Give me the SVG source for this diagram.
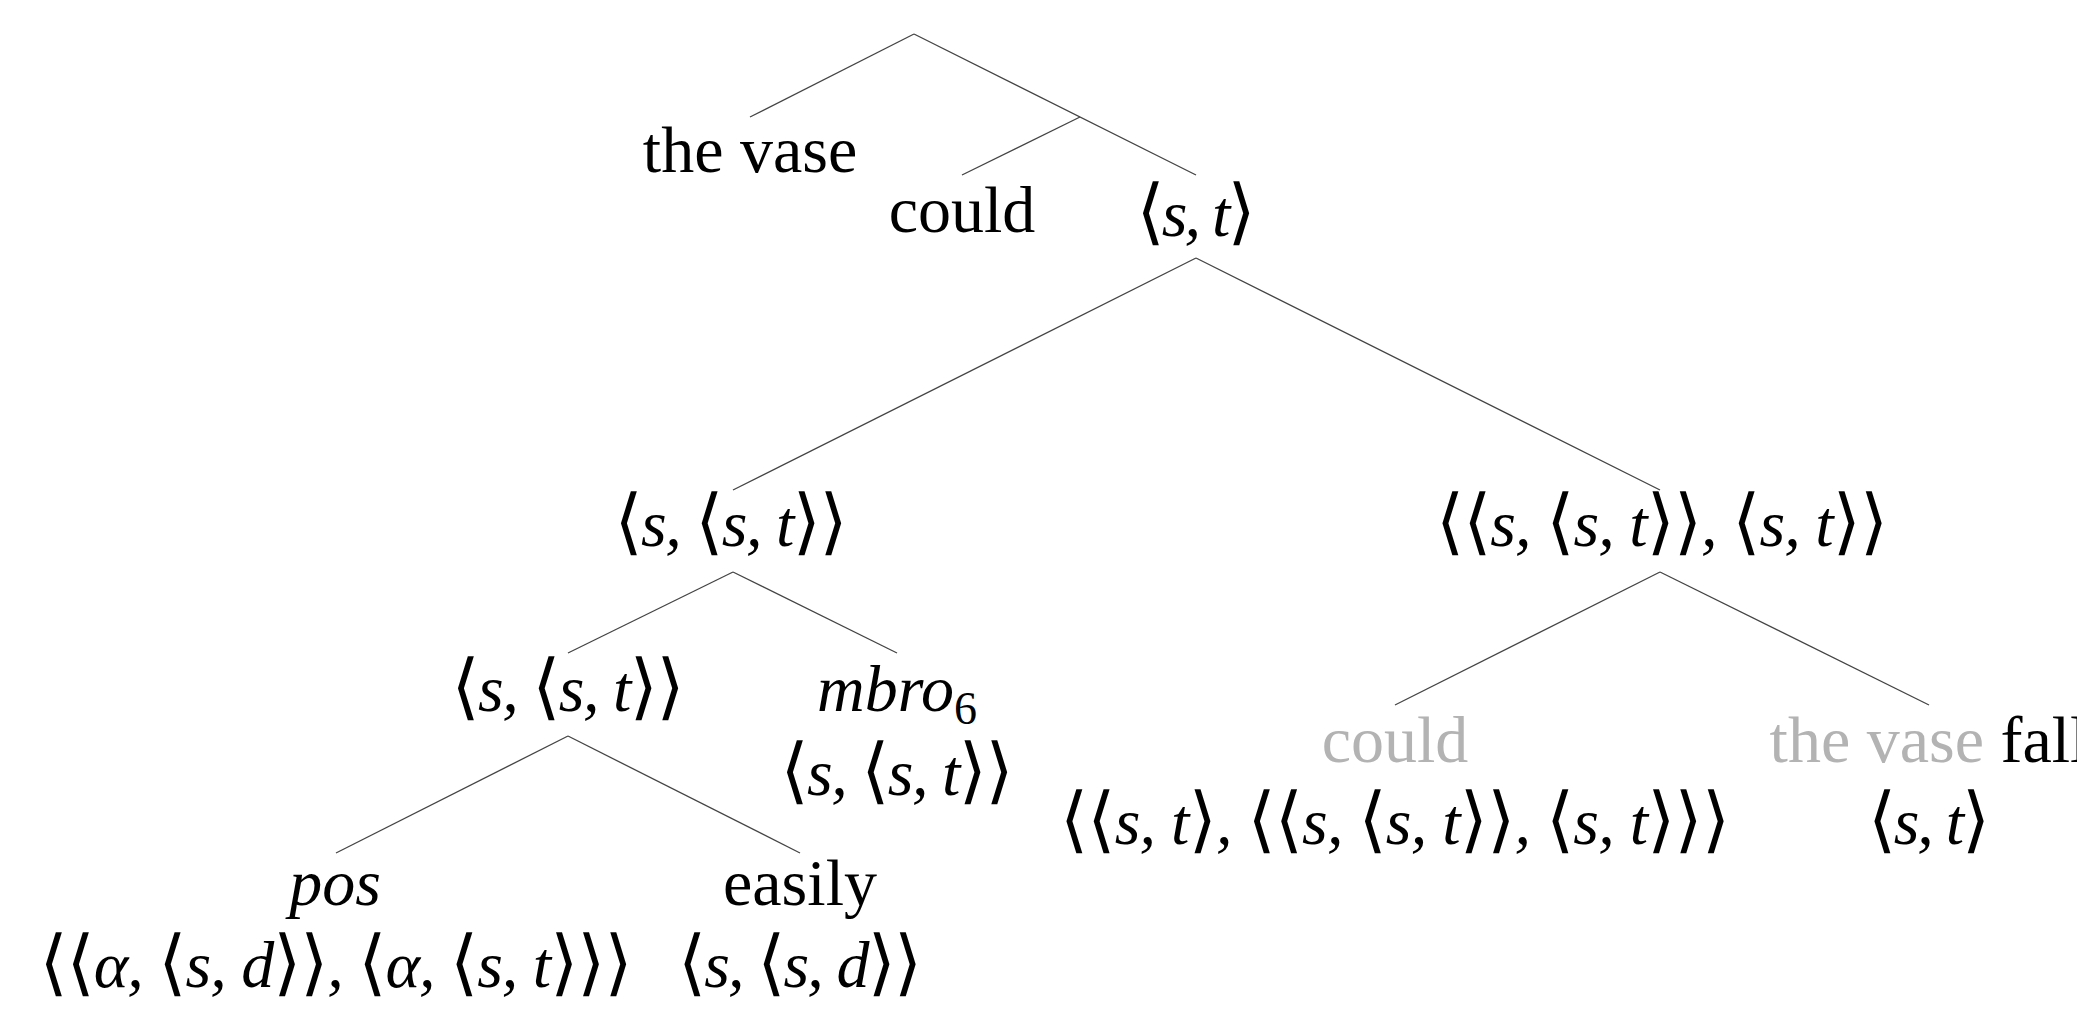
<svg xmlns="http://www.w3.org/2000/svg" width="2077" height="1010" viewBox="0 0 2077 1010">
<style>
text{font-family:"Liberation Serif","Times New Roman",serif;font-size:66px;fill:#000;text-anchor:middle}
.m{font-style:italic}
.b{font-family:"DejaVu Sans ExtraLight","DejaVu Serif",serif;font-style:normal;font-weight:200;font-size:72px}
.g{fill:#b3b3b3}
.e line{stroke:#444;stroke-width:1.3}
</style>
<rect width="2077" height="1010" fill="#fff"/>
<g id="connectors" class="e">
<line x1="914" y1="34" x2="750" y2="117"/>
<line x1="914" y1="34" x2="1196" y2="175"/>
<line x1="1080" y1="117" x2="962" y2="175"/>
<line x1="1196" y1="258" x2="733" y2="490"/>
<line x1="1196" y1="258" x2="1660" y2="490"/>
<line x1="733" y1="572" x2="568" y2="653"/>
<line x1="733" y1="572" x2="897" y2="653"/>
<line x1="1660" y1="572" x2="1395" y2="705"/>
<line x1="1660" y1="572" x2="1929" y2="705"/>
<line x1="568" y1="736" x2="336" y2="853"/>
<line x1="568" y1="736" x2="800" y2="853"/>
</g>
<g id="n-thevase"><text x="750" y="172">the vase</text></g>
<g id="n-could"><text x="962" y="232">could</text></g>
<g id="n-st"><text class="m" x="1196" y="236" textLength="119"><tspan class="b">⟨</tspan>s, t<tspan class="b">⟩</tspan></text></g>
<g id="n-left"><text class="m" x="731" y="546" textLength="233"><tspan class="b">⟨</tspan>s, <tspan class="b">⟨</tspan>s, t<tspan class="b">⟩⟩</tspan></text></g>
<g id="n-right"><text class="m" x="1662" y="546" textLength="452"><tspan class="b">⟨⟨</tspan>s, <tspan class="b">⟨</tspan>s, t<tspan class="b">⟩⟩</tspan>, <tspan class="b">⟨</tspan>s, t<tspan class="b">⟩⟩</tspan></text></g>
<g id="n-left2"><text class="m" x="568" y="711" textLength="233"><tspan class="b">⟨</tspan>s, <tspan class="b">⟨</tspan>s, t<tspan class="b">⟩⟩</tspan></text></g>
<g id="n-mbro">
<text class="m" x="897" y="711">mbro<tspan font-style="normal" font-size="46" dy="13">6</tspan></text>
<text class="m" x="897" y="795" textLength="233"><tspan class="b">⟨</tspan>s, <tspan class="b">⟨</tspan>s, t<tspan class="b">⟩⟩</tspan></text>
</g>
<g id="n-pos">
<text class="m" x="335" y="905">pos</text>
<text class="m" x="336" y="987" textLength="593"><tspan class="b">⟨⟨</tspan>α, <tspan class="b">⟨</tspan>s, d<tspan class="b">⟩⟩</tspan>, <tspan class="b">⟨</tspan>α, <tspan class="b">⟨</tspan>s, t<tspan class="b">⟩⟩⟩</tspan></text>
</g>
<g id="n-easily">
<text x="800" y="905">easily</text>
<text class="m" x="800" y="987" textLength="244"><tspan class="b">⟨</tspan>s, <tspan class="b">⟨</tspan>s, d<tspan class="b">⟩⟩</tspan></text>
</g>
<g id="n-could2">
<text class="g" x="1395" y="762">could</text>
<text class="m" x="1395" y="844" textLength="670"><tspan class="b">⟨⟨</tspan>s, t<tspan class="b">⟩</tspan>, <tspan class="b">⟨⟨</tspan>s, <tspan class="b">⟨</tspan>s, t<tspan class="b">⟩⟩</tspan>, <tspan class="b">⟨</tspan>s, t<tspan class="b">⟩⟩⟩</tspan></text>
</g>
<g id="n-falls">
<text x="1929" y="762"><tspan class="g">the vase</tspan> fall</text>
<text class="m" x="1929" y="844" textLength="122"><tspan class="b">⟨</tspan>s, t<tspan class="b">⟩</tspan></text>
</g>
</svg>
